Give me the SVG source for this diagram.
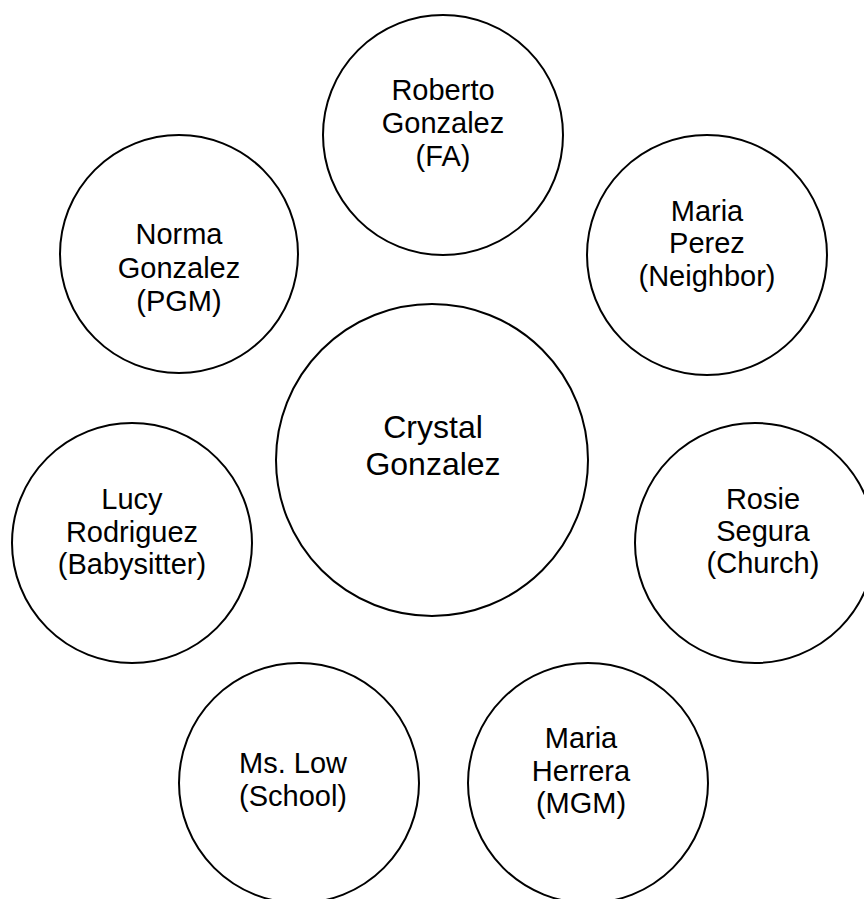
<svg xmlns="http://www.w3.org/2000/svg" width="864" height="899" viewBox="0 0 864 899">
<style>
.c{fill:#fff;stroke:#000;stroke-width:2}
.t{font-family:"Liberation Sans",Arial,sans-serif;font-size:29px;fill:#000;text-anchor:middle}
.big{font-size:32px}
</style>
<rect width="864" height="899" fill="#fff"/>
<g id="connectors"></g>
<g id="roberto">
<circle class="c" cx="443" cy="135" r="120"/>
<text class="t"><tspan x="443" y="100">Roberto</tspan><tspan x="443" y="133">Gonzalez</tspan><tspan x="443" y="166">(FA)</tspan></text>
</g>
<g id="norma">
<circle class="c" cx="179" cy="254" r="119"/>
<text class="t"><tspan x="179" y="244">Norma</tspan><tspan x="179" y="278">Gonzalez</tspan><tspan x="179" y="311">(PGM)</tspan></text>
</g>
<g id="mariaperez">
<circle class="c" cx="707" cy="255" r="120"/>
<text class="t"><tspan x="707" y="221">Maria</tspan><tspan x="707" y="253">Perez</tspan><tspan x="707" y="286">(Neighbor)</tspan></text>
</g>
<g id="crystal">
<circle class="c" cx="432" cy="460" r="156"/>
<text class="t big"><tspan x="433" y="438">Crystal</tspan><tspan x="433" y="475">Gonzalez</tspan></text>
</g>
<g id="lucy">
<circle class="c" cx="132" cy="543" r="120"/>
<text class="t"><tspan x="132" y="509">Lucy</tspan><tspan x="132" y="542">Rodriguez</tspan><tspan x="132" y="574">(Babysitter)</tspan></text>
</g>
<g id="rosie">
<circle class="c" cx="755" cy="543" r="120"/>
<text class="t"><tspan x="763" y="509">Rosie</tspan><tspan x="763" y="541">Segura</tspan><tspan x="763" y="573">(Church)</tspan></text>
</g>
<g id="mslow">
<circle class="c" cx="299" cy="783" r="120"/>
<text class="t"><tspan x="293" y="773">Ms. Low</tspan><tspan x="293" y="806">(School)</tspan></text>
</g>
<g id="mariaherrera">
<circle class="c" cx="588" cy="783" r="120"/>
<text class="t"><tspan x="581" y="748">Maria</tspan><tspan x="581" y="781">Herrera</tspan><tspan x="581" y="813">(MGM)</tspan></text>
</g>
</svg>
